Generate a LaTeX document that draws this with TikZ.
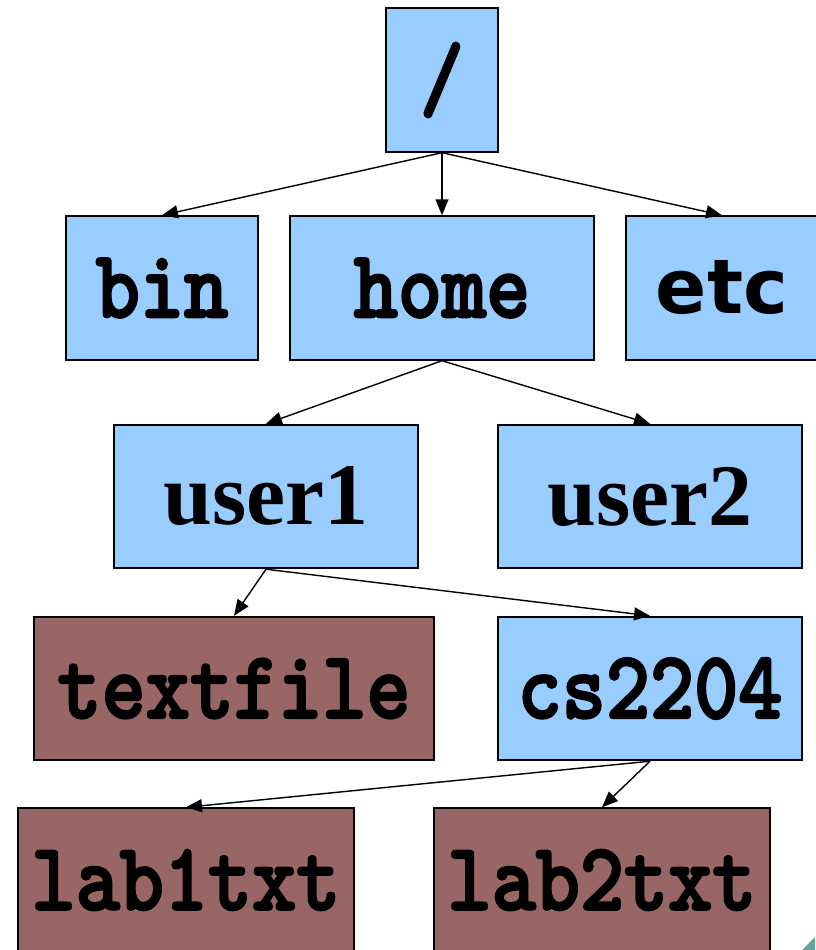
\documentclass[tikz,border=0pt]{standalone}
\usepackage{fontspec}
\usetikzlibrary{arrows.meta}
\newfontfamily\treefont{lmmonolt10-bold.otf}[FakeBold=2.2, FakeStretch=0.87]
\newfontfamily\etcfont{DejaVu Sans}
\newfontfamily\userfont{Liberation Serif}
\definecolor{dirblue}{RGB}{153,204,255}
\definecolor{filebrown}{RGB}{153,102,102}
\definecolor{cornerteal}{RGB}{104,160,156}
\tikzset{
  entry/.style={draw, line width=1.1pt, inner sep=0pt, minimum height=2.87cm,
    font=\fontsize{55}{55}\selectfont\treefont},
  dirbox/.style={entry, fill=dirblue},
  filebox/.style={entry, fill=filebrown},
  link/.style={-{Triangle[length=0.32cm,width=0.26cm]}, line width=0.8pt}
}

\begin{document}
\begin{tikzpicture}[x=0.02cm, y=-0.02cm]
\useasboundingbox (0,0) rectangle (815,950);

\node[dirbox, minimum width=2.24cm] (root) at (442,80) {/};
\node[dirbox, minimum width=3.84cm] (bin) at (162,288) {bin};
\node[dirbox, minimum width=6.08cm] (home) at (442,288) {home};
\node[dirbox, minimum width=3.84cm, font=\fontsize{43}{43}\selectfont\etcfont\bfseries] (etc) at (722,288) {etc};
\node[dirbox, minimum width=6.08cm, font=\fontsize{50}{50}\selectfont\userfont\bfseries] (user1) at (266,496.5) {user1};
\node[dirbox, minimum width=6.08cm, font=\fontsize{50}{50}\selectfont\userfont\bfseries] (user2) at (650,496.5) {user2};
\node[filebox, minimum width=8cm] (textfile) at (234,688.5) {textfile};
\node[dirbox, minimum width=6.08cm] (cs2204) at (650,688.5) {cs2204};
\node[filebox, minimum width=6.72cm] (lab1txt) at (186,880) {lab1txt};
\node[filebox, minimum width=6.72cm] (lab2txt) at (602,880) {lab2txt};

\draw[link] (root.south) -- (bin.north);
\draw[link] (root.south) -- (home.north);
\draw[link] (root.south) -- (etc.north);
\draw[link] (home.south) -- (user1.north);
\draw[link] (home.south) -- (user2.north);
\draw[link] (user1.south) -- (textfile.north);
\draw[link] (user1.south) -- (cs2204.north);
\draw[link] (cs2204.south) -- (lab1txt.north);
\draw[link] (cs2204.south) -- (lab2txt.north);

% corner mark of the slide
\fill[cornerteal] (802,950) -- (815,937) -- (815,950) -- cycle;
\end{tikzpicture}
\end{document}
